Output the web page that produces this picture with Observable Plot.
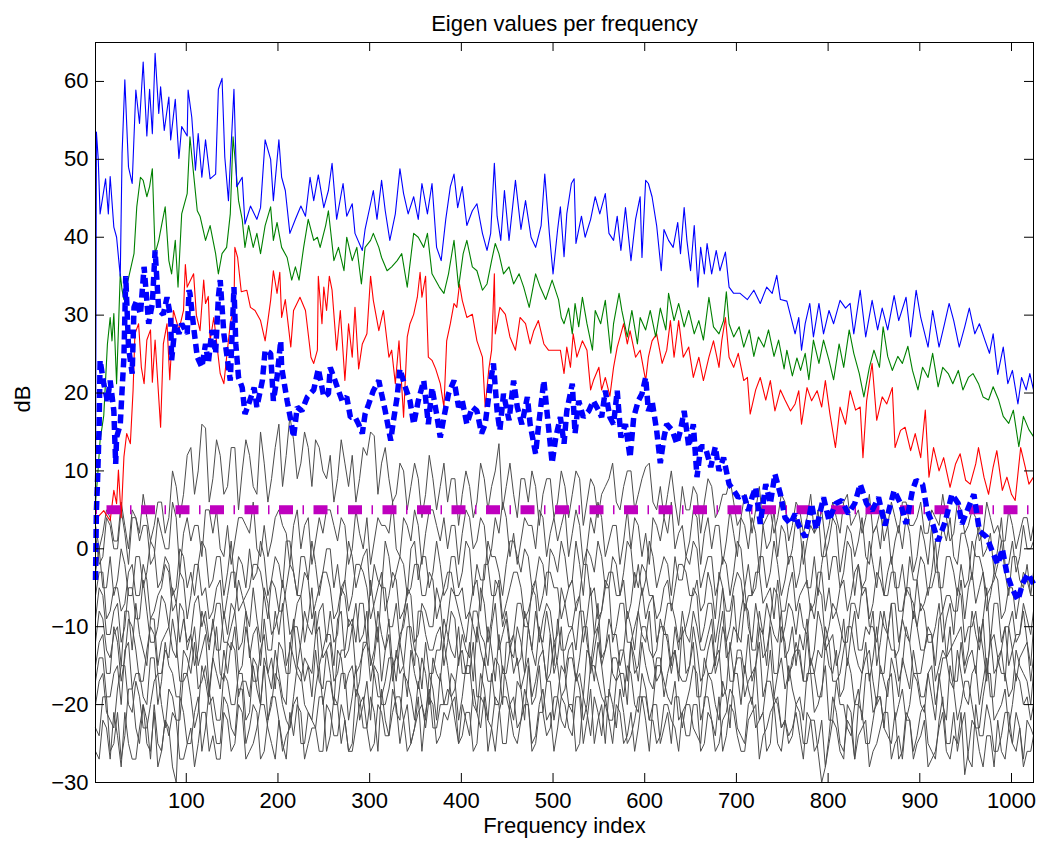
<!DOCTYPE html>
<html>
<head>
<meta charset="utf-8">
<script src="https://cdn.jsdelivr.net/npm/d3@7"></script>
<script src="https://cdn.jsdelivr.net/npm/@observablehq/plot@0.6"></script>
<style>
  html, body { margin: 0; padding: 0; background: #fff; }
</style>
</head>
<body>
<div id="chart"></div>
<script>
// ---------------- DATA ----------------
const chartTitle = "Eigen values per frequency";
const xLabel = "Frequency index";
const yLabel = "dB";
const xTicks = [100, 200, 300, 400, 500, 600, 700, 800, 900, 1000];
const yTicks = [-30, -20, -10, 0, 10, 20, 30, 40, 50, 60];
const threshold = 5;

// Largest eigenvalue (thin blue) [frequency index, dB]
const eig1 = [[1,6],[2,53.5],[4,50],[6,43],[12,47.5],[15,43],[17,47.8],[21,41.3],[24,40],[28,35],[30,50.8],[33,60.2],[37,49],[41,46.9],[45,58.9],[49,54.6],[53,62.5],[57,53],[60,59],[63,53.3],[66,63.6],[70,55.9],[72,59.3],[76,53.7],[81,58],[83,52.5],[88,57.7],[92,50.1],[95,54.2],[101,53],[102,58.9],[106,55.4],[110,48.6],[113,53.3],[117,47.7],[121,52.5],[126,47.5],[132,48.1],[135,59],[139,60.4],[142,50.3],[146,44.7],[152,59],[155,46.5],[161,47.7],[164,41.7],[170,44],[177,42.3],[181,43.8],[186,52.5],[192,50],[195,44.7],[201,52.5],[204,47.7],[208,46],[213,40.5],[219,42.3],[225,44],[230,42.7],[235,47.7],[239,44.7],[244,48],[250,43.8],[255,46],[259,49.5],[264,42.3],[271,46.9],[275,42.7],[281,44.3],[284,40.5],[292,38.3],[295,41],[301,44.3],[304,46],[308,42.3],[313,47.3],[317,43.4],[322,39.6],[328,43],[333,48.8],[337,45.6],[342,43],[348,45.2],[353,42.3],[357,46.9],[363,43],[368,46.9],[373,38.7],[378,37],[383,42.3],[388,46.5],[392,48.1],[396,43.8],[401,46.5],[406,41.5],[412,43.4],[417,44.3],[423,40.5],[428,38.3],[432,40.5],[436,49.5],[439,42.7],[443,39.6],[447,46],[452,39.6],[459,47.3],[465,41],[470,44.7],[476,40],[481,38.7],[487,41.5],[491,48.1],[496,40.5],[500,35.3],[505,41],[508,43.9],[512,37.5],[515,43],[520,46.9],[523,47.5],[525,39.2],[531,42.7],[535,40],[541,42.3],[546,45.2],[551,43],[557,45.6],[561,40.5],[566,39.6],[570,42.7],[574,38.3],[579,43.8],[585,37],[590,42.3],[595,45.2],[597,37.4],[601,47.3],[604,46.9],[608,45.2],[613,41.5],[618,35.7],[621,41],[626,39.6],[631,38.7],[636,41.9],[639,37.9],[643,43.8],[646,39.6],[650,35.7],[654,41.5],[658,33.6],[661,38.7],[665,35.3],[668,39.2],[673,35.3],[678,38.3],[682,35.7],[688,38.1],[692,33.6],[697,32.8],[704,32.8],[712,32],[719,33.2],[726,31.5],[733,33.6],[739,32.8],[744,35.1],[748,32],[755,31.8],[760,29.5],[764,27.6],[768,29.7],[771,25.5],[775,28.9],[780,31.5],[784,27.2],[790,31.5],[795,27.6],[801,30.6],[806,28.9],[813,31.9],[819,30.9],[824,31.5],[828,27.6],[835,33.2],[841,27.2],[848,31.9],[854,28.1],[859,30.9],[865,28.1],[872,32.5],[877,29.3],[885,32.3],[890,27.2],[896,33.2],[901,29.7],[909,25.9],[914,30.6],[921,25.9],[927,28.9],[932,31.5],[937,29.3],[943,25.9],[949,28.5],[954,30.9],[960,27.6],[965,28.9],[971,26.8],[976,25.1],[980,27.6],[985,22.4],[991,25.9],[996,21.2],[1001,22.9],[1007,18.6],[1011,22],[1016,20.4],[1020,22.5],[1024,20.4]];

// Second eigenvalue (green)
const eig2 = [[1,6],[3,8.8],[6,13.9],[10,17.1],[14,26.3],[17,29.7],[19,26.7],[21,30.2],[24,21.2],[26,28.2],[28,35.3],[30,33.2],[32,32],[35,33.7],[43,37.9],[46,43.9],[50,47.7],[53,47.3],[57,45.2],[60,46.5],[63,48.8],[66,37.9],[70,39.6],[73,41.5],[77,43.9],[81,37],[84,35.3],[88,39.6],[91,33.6],[95,43],[101,45.6],[104,52.9],[108,48.1],[112,43.4],[115,42.7],[121,39.6],[126,41.5],[132,37.9],[135,35.3],[139,37.9],[144,38.7],[148,43],[151,52.9],[154,49],[157,44.7],[161,42.3],[164,38.7],[168,41.5],[173,38.7],[177,40.5],[181,37.9],[186,41.5],[192,43.9],[195,39.6],[199,41.9],[204,38.7],[210,37.4],[215,34.5],[219,36.2],[223,34.5],[228,38.7],[233,42.3],[239,39.6],[243,40],[246,38.7],[252,41.5],[255,43.4],[261,37],[266,38.7],[272,35.7],[275,40],[281,37],[286,38.7],[291,34],[295,38.7],[301,39.6],[304,40.5],[310,38.7],[313,37.4],[319,35.7],[324,36.2],[330,37],[335,37.9],[341,33.6],[348,40.5],[353,40],[359,38.7],[363,40.5],[368,35.3],[376,33.6],[381,32.8],[386,35.3],[392,39.6],[397,33.6],[402,37.9],[406,39.6],[412,36.2],[417,35.7],[423,33.2],[428,34],[433,37],[437,39.2],[441,37.9],[446,35.3],[452,36.2],[457,34],[463,35.3],[468,33.6],[474,31],[481,35.3],[486,33.6],[492,32],[499,34.5],[506,32],[509,29.7],[512,28.9],[517,30.9],[521,27.6],[524,31.5],[528,28.5],[532,32.3],[537,28.9],[543,25.5],[546,30.6],[552,28.9],[557,31.9],[563,25.1],[566,28.9],[572,32.8],[575,30.6],[581,27.2],[586,30.6],[592,26.3],[595,29.7],[601,28.1],[606,30.6],[612,27.2],[617,30.9],[623,28.1],[626,32.8],[632,29.3],[637,31.5],[643,28.5],[648,30.6],[654,27.6],[659,29.3],[664,26.8],[670,32.3],[675,28.5],[681,27.6],[686,29.3],[689,33],[692,28.9],[697,27.2],[703,28.5],[708,25.9],[714,28.1],[719,24.7],[724,27.2],[730,25.9],[735,28.1],[741,24.7],[746,26.8],[752,23.1],[755,25.5],[761,22.2],[766,24.5],[770,22.9],[775,25.1],[779,21.7],[784,26.8],[790,23.8],[795,26.8],[801,24.2],[806,21.7],[812,26.3],[817,23.3],[823,28.1],[828,25.1],[834,22.5],[839,19.5],[845,23.3],[850,25.5],[856,23.3],[860,28.5],[865,24.7],[870,22.9],[876,24.7],[881,23.8],[887,26],[892,22.9],[898,20.4],[903,23.3],[909,22],[914,25.1],[920,20.8],[925,23.3],[931,22.5],[936,21.2],[942,22.9],[947,20.4],[953,22],[958,22.5],[964,21.2],[969,19.5],[975,19.1],[980,20.8],[986,19.1],[991,17],[997,16.1],[1002,17.8],[1008,13.1],[1013,17],[1019,15.3],[1024,14.4]];

// Third eigenvalue (red)
const eig3 = [[1,4],[3,4],[10,4.9],[17,3.6],[21,7.5],[24,5.8],[26,10.1],[29,4],[32,11.8],[35,14.8],[39,13.5],[42,20.4],[44,27.6],[48,28.9],[51,23.3],[54,21.2],[57,26.8],[61,28.1],[63,21.4],[66,26.8],[72,15.6],[75,26.3],[79,28.9],[82,21.7],[86,30.6],[92,28.1],[97,30.6],[99,36.5],[101,33.6],[108,35.3],[111,30],[115,28],[119,34.5],[121,31.5],[124,32.4],[126,26.7],[130,29.7],[137,22.5],[141,21.2],[144,24.6],[148,28.9],[152,31],[153,38.7],[156,37.4],[160,33],[166,33.2],[170,31],[175,30.6],[181,29.3],[186,26.7],[192,31.9],[195,35.7],[199,32.8],[202,35.5],[204,29.7],[208,32],[214,25.9],[217,30.6],[224,32.3],[230,30.6],[236,24.6],[239,23.8],[243,25.5],[244,35],[248,28.9],[250,33.6],[253,30.6],[256,35],[259,33.2],[264,25.5],[268,30.6],[273,21.6],[277,28.9],[281,24.6],[284,31],[288,23.1],[292,26.3],[297,27.6],[301,35],[304,31.9],[310,28],[315,30.6],[321,24.6],[324,25.5],[328,21.2],[332,26.7],[337,16.9],[341,27.2],[344,28.9],[348,30.1],[352,32.3],[355,35.5],[357,32.3],[361,35],[364,24.6],[368,24.2],[372,23.1],[377,21.2],[381,18.2],[384,26.7],[388,28.9],[392,31.5],[395,31],[398,34],[401,31.9],[406,29.7],[412,30.1],[417,26.7],[423,24.6],[426,18.2],[430,23.1],[433,25.5],[436,35.3],[437,27.6],[442,31],[448,30.1],[453,27.2],[459,25.5],[464,29.7],[470,28.9],[475,26.3],[479,28],[484,29.3],[490,26.3],[495,25.5],[503,25.5],[508,25.5],[512,22.5],[515,25.9],[519,23.3],[522,27.6],[526,24.6],[532,26.7],[537,25.5],[541,20.4],[544,21.6],[550,23.3],[553,20.4],[557,22],[562,19.6],[566,23.3],[570,25.9],[574,27.6],[577,28.9],[581,26.3],[584,28],[590,24.6],[595,25.5],[601,21.6],[604,24.6],[608,26.7],[613,27.6],[619,23.8],[624,25.5],[628,29.3],[632,24.6],[637,29.3],[642,24.6],[648,25.9],[653,22],[659,24.6],[664,21.6],[670,24.6],[675,26.7],[681,23.3],[684,26.7],[688,29.7],[692,24.6],[697,23.3],[702,25.1],[708,21.6],[712,22],[715,17.3],[721,20.4],[726,22],[732,19.1],[737,21.6],[742,17.7],[748,20.4],[753,19.1],[759,17.7],[764,18.6],[768,20.3],[771,16],[777,20.7],[782,19],[788,20.3],[793,18.2],[797,21.6],[802,17.3],[808,13],[813,18.2],[819,16],[824,20.3],[830,17.8],[835,18.2],[838,11.7],[842,19],[848,23.8],[853,16.5],[859,19.5],[864,18.6],[870,20.7],[873,13],[879,15.2],[884,15.6],[890,12.6],[895,14.8],[901,11.7],[906,17.8],[910,9.2],[915,13],[921,10],[926,11.7],[933,7.9],[939,10.9],[944,12.2],[950,8.8],[955,8.3],[961,10.9],[964,13],[970,9.2],[975,7],[980,10.5],[984,12.6],[990,7.5],[995,9.2],[1000,7],[1004,6.2],[1010,13],[1015,10.5],[1019,8.3],[1024,9.2]];

// Fourth eigenvalue (thick dashed blue)
const eig4 = [[1,-4],[2,5],[3,7.9],[4,11.8],[5,16.1],[6,24.2],[10,21.2],[14,19],[17,21.6],[21,17.7],[23,10.9],[24,14.3],[28,16],[30,20.4],[32,24.6],[34,35],[37,25.9],[41,22.5],[43,31],[46,31.9],[50,30.1],[54,36.2],[59,28.9],[63,31.5],[66,38.3],[70,30.6],[75,30.1],[79,32.3],[83,29.7],[84,24.2],[88,28.9],[92,27.6],[95,28.9],[101,27.6],[103,33.2],[104,32.8],[108,28.5],[112,24.6],[117,23.3],[121,26.3],[124,23.8],[128,28.1],[132,25.1],[135,32.3],[137,34.5],[141,27.6],[144,25.1],[148,21.6],[152,33.6],[154,26.3],[157,22],[161,20.7],[164,17.3],[168,18.6],[174,20.7],[177,18.2],[183,21.6],[186,25.5],[192,25.1],[195,19],[199,22],[203,26.7],[204,23.3],[210,19],[214,16.5],[217,14.3],[221,18.2],[226,17.7],[232,19.5],[239,20.4],[244,23.1],[250,19.5],[255,19.9],[257,23.3],[261,22],[266,20.3],[270,19],[275,19.5],[279,16.9],[284,16.9],[288,16],[292,14.8],[295,17.3],[299,18.6],[304,20.3],[310,21.6],[313,19.9],[317,17.7],[323,13.9],[326,16.5],[330,19.5],[333,23.1],[339,20.7],[344,19],[348,16],[353,19],[359,21.6],[364,16],[368,20.7],[373,17.3],[377,14.3],[381,16.9],[386,19.9],[392,21.6],[397,18.2],[401,19],[406,16],[412,18.2],[417,17.7],[422,14.8],[426,16],[432,21.6],[435,23.8],[439,17.7],[442,15.2],[446,19.9],[452,16.5],[457,21.6],[461,18.2],[466,16],[472,19.5],[475,16],[481,12.2],[484,15.6],[490,21.6],[494,16.9],[499,11],[503,14.3],[508,16.9],[512,13.5],[515,17.7],[521,21.2],[524,14.8],[528,19],[533,16.9],[539,17.7],[544,19],[550,17.7],[553,16.9],[557,20.3],[562,16.9],[566,16],[570,20.3],[574,14.3],[579,16],[584,11.7],[588,16.9],[593,19],[597,19.9],[601,22],[604,17.7],[608,19],[613,15.2],[617,11],[621,14.3],[624,16],[630,15.2],[635,13.5],[639,15.2],[643,17.7],[648,13.1],[653,16],[657,9.2],[661,13.1],[666,13.1],[672,10.5],[677,13.1],[681,10],[686,11.7],[692,8.3],[697,7.5],[702,6.6],[708,7],[713,4.9],[717,6.6],[721,7.9],[726,3.2],[732,8.3],[737,5.8],[742,9.6],[748,7],[753,4],[759,3.2],[764,4.5],[768,3],[775,1.5],[782,5.8],[787,2.5],[795,6.6],[801,3.6],[808,5.8],[815,6.2],[822,4.5],[829,5.8],[835,8.3],[842,5.8],[848,4.9],[855,6.6],[862,3],[872,7.5],[879,5.8],[885,3.2],[892,7.5],[896,8.8],[903,8.3],[908,4.9],[914,3.2],[920,1],[928,3.6],[935,7],[942,5.8],[946,3.2],[953,5.3],[959,7],[965,2.3],[973,1.5],[979,-0.3],[985,-2],[990,0],[995,-3.2],[1000,-4.9],[1007,-6.6],[1012,-4.5],[1018,-3.2],[1024,-4.5]];

// Remaining (noise) eigenvalues in grey.
// "A" values are at frequency indices 1, 9, 17, ..., 1017, 1024; "B" values at 5, 13, ..., 1021.
const noiseFreqA = d3.range(1, 1024, 8).concat([1024]);
const noiseFreqB = d3.range(5, 1024, 8);
const noise5A = [3,2,4,1,3,5,2,4,3,6,4,8,7,13,10,15.5, 9,12,8,13,10,12,7,11,9,16,12,14,11,13,14,10, 12,9,11,12,9,12,14.5,11,9,7,10,8,9,7,9,8, 6,9,7,8,6,9,8,13.5,8,7,9,6,8,7,9,6, 8,7,9,6,8,7,9,6,8,10,7,10.5,6,8,7,6, 8,5,7,6,8,5,7,6,4,6,5,3,5,4,6,3, 5,4,2,5,3,4,6,3,5,4,2,5,3,4,6,3, 4,2,5,3,4,2,5,3,4,2,4,3,1,3,2,4, 3];
const noise5B = [0,5,1,6,0,4,7,1,6,2,10,4,12,7,16,6, 14,7,13,5,14,8,15,6,13,8,17,9,15,8,13,9, 6,14,8,6,13,15,7,13,6,11,5,11,4,12,5,11, 9,3,10,4,11,5,10,5,11,4,9,10,3,9,4,10, 4,10,3,9,4,8,11,5,10,5,9,11,5,4,10,3, 5,8,2,9,4,7,9,3,7,2,8,4,2,7,1,6, 2,7,3,1,6,2,7,4,2,7,3,1,6,2,6,3, 6,2,4,7,1,6,2,5,1,6,2,1,5,0,4,1];
const noise6A = [2,-1,3,0,2,4,1,3,-1,2,0,4,2,1,3,5, 2,0,3,1,4,2,0,3,1,5,2,3,0,4,1,2, 5,1,3,0,2,4,1,3,2,0,4,1,3,2,5,1, 0,3,2,4,1,3,0,2,4,2,1,3,0,4,2,1, 5,2,3,0,2,4,1,3,1,0,3,2,4,1,2,0, 3,1,4,2,0,3,1,2,4,0,2,3,1,-1,2,0, 3,1,2,-1,1,3,0,2,1,-1,2,0,3,1,0,2, -1,1,3,0,1,-1,2,0,1,-1,2,0,-2,1,-1,0, 1];
const noise6B = [-2,4,0,5,-2,4,3,-2,4,0,6,-3,4,3,-1,5, 5,-1,-2,4,3,6,-1,-1,4,3,-2,5,3,-2,4,5, 3,4,-2,5,0,-2,4,3,6,-1,3,5,-2,5,3,4, 3,-2,5,0,4,-2,4,6,-1,-2,4,3,5,-1,4,3, -1,5,-2,4,6,-1,3,-2,5,4,-1,-2,3,4,6,2, -1,5,-2,4,3,-2,5,-1,3,4,-3,0,5,3,-2,4, -2,3,5,-1,4,-3,3,-1,4,-2,3,5,-2,3,4,-3, 3,-2,-3,3,4,-2,2,-4,3,0,-3,4,-2,-3,3,0];
const noise7A = [-3,-5,-1,-4,-2,-6,-1,-3,0,-4,-2,-5,-1,-3,-2,0, -4,-1,-3,-5,-2,0,-3,-1,-4,-2,1,-3,-1,-4,-2,-3, 0,-2,-4,-1,-3,0,-2,-5,-1,-3,-2,0,-4,-1,-3,-2, -5,-1,-3,0,-2,-4,-1,-3,-2,1,-3,-1,-4,-2,0,-3, -1,-4,-2,0,-3,-1,-5,-2,-3,0,-2,-4,-1,-3,-2,-1, -4,-2,0,-3,-1,-4,-2,-3,0,-2,-5,-1,-3,-2,-4,-1, -3,-5,-1,-2,-4,-1,-3,0,-2,-4,-2,-1,-3,-5,-2,-1, -4,-2,-3,-5,-1,-3,-2,-4,-1,-3,-5,-2,-3,-1,-4,-2, -3];
const noise7B = [0,-5,-6,0,-6,-1,-5,1,-5,-1,-6,0,-5,-6,1,-5, -1,-6,1,-1,-5,-4,1,-6,-1,-5,1,-6,-1,1,-6,0, -5,-6,1,-5,-1,-6,-4,1,-5,-1,-6,1,-1,-5,1,-6, -1,-5,1,-6,-4,1,-1,-6,1,-1,0,-5,-1,-6,-1,1, -5,1,-6,-1,1,-5,-1,-6,1,-5,-6,1,-5,-1,-6,-4, -1,1,-5,-1,-6,-1,-6,1,-5,-6,-1,-5,1,-6,-1,-5, 1,-5,-6,1,-1,-5,1,-6,-5,1,-5,-6,-1,-5,-6,-4, -1,-6,1,-5,-1,-6,-5,1,-1,-6,-4,1,-6,-1,-5,-6];
const noise8A = [-6,-3,-8,-5,-7,-2,-6,-4,-8,-5,-3,-7,-4,-6,-2,-5, -8,-4,-6,-3,-7,-5,-2,-6,-4,-8,-5,-3,-6,-4,-7,-3, -5,-8,-4,-6,-2,-5,-7,-3,-6,-4,-8,-5,-2,-6,-4,-7, -3,-6,-5,-8,-4,-2,-6,-4,-7,-3,-5,-8,-4,-6,-3,-5, -7,-4,-6,-2,-5,-8,-3,-6,-4,-7,-5,-3,-6,-8,-4,-5, -2,-6,-4,-7,-5,-3,-8,-5,-4,-6,-3,-7,-5,-4,-8,-3, -6,-4,-7,-3,-5,-8,-4,-6,-2,-5,-7,-4,-6,-3,-8,-5, -4,-7,-5,-3,-6,-8,-4,-5,-7,-3,-6,-4,-8,-5,-6,-4, -6];
const noise8B = [-3,-9,-5,-8,-3,-6,-2,-9,-6,-2,-8,-3,-9,-2,-6,-9, -5,-9,-3,-8,-6,-2,-3,-9,-5,-8,-2,-6,-3,-9,-5,-3, -9,-5,-8,-2,-3,-9,-5,-8,-3,-9,-6,-2,-6,-3,-9,-5, -3,-6,-9,-5,-8,-2,-6,-9,-5,-3,-9,-6,-8,-3,-5,-9, -5,-8,-2,-6,-9,-5,-3,-6,-9,-3,-2,-6,-9,-5,-8,-2, -3,-6,-8,-3,-9,-5,-8,-3,-8,-6,-3,-6,-9,-8,-5,-8, -5,-8,-3,-8,-9,-5,-8,-3,-6,-9,-3,-6,-3,-8,-5,-9, -8,-5,-3,-8,-6,-8,-9,-3,-5,-8,-3,-9,-5,-9,-3,-6];
const noise9A = [-9,-6,-11,-7,-10,-5,-9,-8,-12,-6,-10,-7,-9,-11,-6,-8, -10,-7,-12,-8,-6,-10,-9,-5,-11,-8,-7,-10,-6,-9,-11,-7, -8,-11,-6,-9,-7,-12,-8,-5,-10,-7,-9,-6,-11,-8,-10,-7, -9,-6,-10,-8,-12,-7,-9,-5,-8,-11,-7,-10,-6,-9,-8,-11, -7,-10,-6,-9,-11,-8,-5,-10,-7,-12,-8,-9,-6,-10,-7,-9, -11,-8,-6,-10,-7,-9,-12,-6,-8,-10,-7,-11,-9,-6,-10,-8, -7,-11,-9,-6,-10,-8,-12,-7,-9,-5,-10,-8,-11,-7,-9,-6, -10,-8,-12,-7,-9,-11,-6,-10,-8,-9,-12,-7,-10,-8,-11,-9, -8];
const noise9B = [-5,-11,-8,-12,-5,-9,-4,-12,-10,-7,-5,-12,-12,-7,-10,-12, -7,-12,-10,-4,-8,-5,-12,-7,-10,-4,-11,-7,-12,-5,-8,-12, -12,-5,-10,-12,-7,-4,-12,-5,-10,-12,-5,-12,-7,-10,-5,-12, -5,-8,-12,-10,-5,-12,-4,-10,-12,-7,-10,-5,-12,-7,-12,-5, -10,-7,-12,-5,-10,-4,-12,-7,-12,-10,-5,-7,-12,-10,-7,-12, -10,-5,-12,-7,-12,-5,-10,-12,-5,-12,-10,-7,-5,-12,-7,-11, -10,-7,-5,-12,-7,-10,-12,-7,-5,-10,-12,-10,-7,-12,-5,-7, -7,-12,-10,-12,-7,-5,-12,-10,-12,-5,-7,-12,-10,-12,-7,-11];
const noise10A = [-12,-9,-14,-10,-8,-13,-11,-15,-9,-12,-10,-14,-8,-11,-13,-10, -9,-13,-11,-8,-12,-14,-10,-9,-13,-11,-15,-9,-12,-10,-8,-13, -11,-9,-14,-10,-12,-8,-13,-11,-9,-14,-10,-12,-8,-11,-13,-10, -12,-9,-11,-14,-8,-12,-10,-13,-9,-11,-14,-10,-8,-12,-11,-9, -13,-10,-8,-12,-11,-14,-9,-11,-13,-10,-8,-12,-14,-9,-11,-10, -8,-12,-10,-13,-9,-11,-14,-10,-12,-8,-13,-11,-9,-12,-14,-10, -11,-9,-13,-10,-12,-15,-9,-11,-13,-10,-8,-12,-11,-14,-9,-12, -10,-13,-11,-9,-14,-12,-10,-13,-11,-9,-12,-14,-10,-13,-11,-12, -10];
const noise10B = [-8,-13,-11,-15,-8,-7,-13,-9,-15,-11,-13,-7,-13,-15,-8,-13, -13,-8,-7,-13,-8,-11,-15,-13,-8,-7,-13,-15,-8,-11,-15,-11, -15,-8,-13,-7,-11,-15,-8,-13,-15,-11,-7,-15,-8,-13,-11,-15, -8,-15,-13,-8,-11,-15,-7,-11,-13,-15,-8,-13,-11,-8,-15,-13, -11,-13,-8,-15,-7,-13,-11,-15,-8,-13,-11,-8,-13,-11,-15,-13, -11,-8,-13,-11,-15,-8,-13,-11,-7,-13,-8,-15,-11,-8,-13,-15, -13,-15,-8,-13,-11,-13,-15,-8,-13,-11,-15,-8,-7,-13,-11,-8, -13,-11,-15,-8,-13,-11,-15,-8,-13,-16,-11,-13,-15,-11,-8,-15];
const noise11A = [-15,-11,-16,-12,-14,-10,-17,-13,-11,-16,-14,-12,-17,-13,-15,-11, -14,-16,-12,-10,-15,-13,-17,-11,-14,-12,-16,-10,-13,-15,-11,-14, -12,-16,-13,-10,-15,-12,-14,-17,-11,-13,-15,-10,-14,-12,-16,-13, -11,-14,-16,-12,-10,-15,-13,-11,-16,-14,-12,-10,-15,-13,-11,-14, -16,-12,-14,-10,-13,-15,-11,-17,-13,-12,-15,-10,-14,-16,-12,-13, -10,-15,-13,-16,-11,-14,-12,-17,-13,-11,-15,-14,-10,-16,-12,-14, -13,-11,-16,-14,-12,-17,-13,-10,-15,-12,-14,-16,-11,-13,-15,-12, -16,-13,-11,-15,-14,-17,-12,-14,-16,-13,-11,-15,-17,-13,-14,-12, -14];
const noise11B = [-12,-16,-10,-17,-9,-13,-17,-10,-16,-13,-9,-17,-16,-10,-13,-18, -10,-17,-13,-16,-10,-17,-13,-16,-18,-13,-16,-10,-17,-16,-10,-13, -17,-13,-9,-16,-13,-17,-10,-13,-17,-16,-10,-13,-18,-16,-13,-9, -13,-10,-16,-17,-13,-10,-17,-16,-13,-10,-16,-13,-10,-17,-16,-10, -13,-17,-10,-16,-10,-13,-16,-13,-17,-16,-10,-13,-17,-10,-16,-17, -16,-10,-17,-13,-16,-10,-17,-13,-16,-17,-10,-13,-16,-10,-17,-13, -17,-16,-13,-10,-17,-16,-10,-13,-16,-17,-10,-16,-13,-17,-10,-16, -16,-10,-17,-13,-10,-17,-16,-13,-10,-17,-16,-13,-10,-17,-13,-17];
const noise12A = [-17,-14,-19,-15,-13,-18,-16,-20,-14,-17,-15,-19,-13,-16,-18,-15, -14,-18,-16,-13,-17,-19,-15,-14,-18,-16,-20,-14,-17,-15,-13,-18, -16,-13,-18,-15,-17,-12,-16,-19,-14,-17,-15,-13,-18,-16,-14,-17, -15,-18,-13,-16,-19,-14,-17,-15,-12,-16,-18,-14,-17,-13,-16,-15, -18,-14,-16,-13,-17,-15,-19,-14,-16,-12,-17,-15,-18,-14,-16,-13, -17,-15,-19,-14,-16,-13,-18,-16,-14,-17,-15,-19,-13,-16,-18,-15, -14,-17,-16,-19,-15,-13,-18,-16,-20,-14,-17,-15,-19,-16,-14,-18, -16,-19,-15,-17,-14,-18,-16,-20,-15,-17,-19,-14,-16,-18,-15,-17, -16];
const noise12B = [-14,-19,-16,-20,-12,-16,-19,-14,-20,-12,-16,-19,-14,-12,-17,-19, -16,-13,-12,-19,-17,-14,-20,-16,-13,-19,-12,-16,-14,-19,-17,-13, -20,-14,-16,-19,-12,-14,-19,-17,-14,-12,-19,-16,-14,-20,-16,-12, -19,-14,-16,-12,-19,-17,-14,-20,-12,-14,-16,-19,-14,-17,-12,-19, -14,-17,-19,-14,-12,-19,-14,-16,-20,-14,-12,-17,-14,-19,-14,-16, -17,-12,-19,-16,-14,-19,-12,-14,-19,-16,-12,-17,-19,-14,-16,-12, -17,-14,-19,-12,-16,-19,-14,-20,-16,-13,-20,-17,-14,-19,-16,-13, -19,-16,-20,-14,-17,-13,-19,-16,-20,-14,-19,-16,-19,-13,-16,-20];
const noise13A = [-20,-16,-22,-18,-15,-21,-19,-23,-17,-20,-18,-22,-16,-19,-21,-17, -19,-22,-17,-20,-16,-21,-18,-15,-20,-17,-22,-19,-16,-21,-18,-20, -17,-20,-16,-19,-22,-17,-15,-20,-18,-21,-16,-19,-17,-22,-18,-16, -20,-17,-19,-15,-21,-18,-16,-20,-17,-22,-18,-15,-19,-21,-17,-19, -16,-21,-18,-20,-15,-19,-22,-17,-19,-16,-21,-18,-20,-15,-19,-17, -21,-18,-16,-20,-17,-22,-19,-16,-20,-18,-15,-21,-17,-19,-22,-18, -19,-16,-21,-18,-22,-17,-20,-24,-18,-16,-21,-19,-17,-22,-18,-20, -17,-21,-19,-16,-22,-18,-20,-17,-23,-19,-16,-21,-18,-20,-17,-19, -20];
const noise13B = [-17,-21,-23,-15,-20,-17,-23,-20,-16,-23,-19,-22,-16,-23,-15,-20, -22,-16,-20,-16,-22,-15,-20,-22,-16,-20,-23,-15,-20,-22,-15,-17, -20,-16,-22,-15,-20,-22,-16,-20,-15,-22,-17,-22,-20,-16,-22,-20, -16,-22,-15,-20,-16,-22,-20,-15,-20,-17,-22,-20,-15,-17,-22,-15, -20,-16,-22,-15,-17,-20,-22,-16,-15,-20,-16,-22,-15,-17,-20,-22, -20,-15,-22,-16,-20,-17,-23,-16,-15,-20,-22,-17,-20,-23,-15,-20, -22,-16,-20,-15,-22,-20,-23,-20,-22,-16,-20,-23,-16,-20,-22,-16, -20,-16,-22,-20,-15,-22,-17,-20,-23,-16,-22,-20,-23,-16,-20,-22];
const noise14A = [-23,-19,-26,-21,-24,-18,-25,-22,-20,-26,-23,-30,-21,-25,-19,-23, -22,-25,-20,-24,-18,-23,-21,-26,-19,-22,-24,-20,-25,-21,-23,-19, -24,-20,-22,-25,-19,-23,-21,-18,-24,-20,-22,-25,-19,-21,-23,-20, -18,-22,-20,-24,-21,-19,-23,-20,-25,-19,-22,-20,-24,-18,-21,-23, -20,-24,-19,-22,-25,-20,-18,-23,-21,-24,-19,-22,-20,-25,-21,-19, -23,-20,-24,-19,-22,-25,-21,-19,-24,-20,-23,-21,-25,-20,-22,-24, -21,-25,-22,-30,-24,-21,-26,-23,-20,-25,-22,-19,-24,-21,-26,-22, -24,-20,-26,-22,-25,-21,-23,-27,-20,-24,-22,-26,-21,-25,-23,-22, -24];
const noise14B = [-24,-19,-25,-27,-18,-23,-20,-27,-25,-22,-28,-19,-25,-21,-26,-18, -25,-19,-23,-18,-25,-20,-27,-22,-19,-26,-23,-19,-25,-22,-19,-26, -19,-25,-26,-18,-23,-19,-26,-22,-18,-25,-20,-23,-26,-18,-23,-20, -19,-25,-22,-18,-23,-26,-19,-25,-20,-23,-18,-25,-20,-22,-26,-19, -23,-19,-25,-18,-22,-25,-20,-18,-25,-22,-19,-26,-20,-23,-25,-19, -20,-23,-25,-19,-26,-22,-18,-23,-25,-19,-22,-26,-19,-23,-25,-20, -25,-22,-26,-28,-19,-25,-22,-27,-21,-25,-19,-23,-25,-27,-21,-26, -21,-25,-27,-19,-25,-26,-21,-28,-24,-20,-26,-24,-21,-26,-27,-23];
const noise15A = [-26,-22,-27,-24,-21,-27,-23,-25,-21,-26,-24,-22,-27,-23,-25,-21, -24,-27,-22,-25,-21,-26,-23,-20,-25,-22,-27,-24,-21,-25,-23,-26, -21,-24,-22,-26,-20,-23,-25,-21,-24,-19,-22,-25,-21,-23,-20,-24, -22,-19,-24,-21,-25,-20,-23,-21,-19,-24,-22,-20,-25,-21,-23,-19, -23,-20,-25,-21,-19,-24,-22,-20,-25,-21,-23,-19,-22,-24,-20,-23, -21,-24,-20,-25,-22,-19,-24,-21,-26,-22,-20,-24,-21,-25,-22,-23, -24,-21,-26,-22,-25,-23,-27,-21,-24,-22,-26,-23,-21,-25,-27,-22, -25,-22,-27,-23,-26,-24,-21,-26,-23,-28,-24,-22,-27,-25,-23,-26, -24];
const noise15B = [-27,-23,-21,-28,-25,-27,-20,-26,-28,-22,-21,-27,-25,-28,-21,-26, -27,-21,-26,-20,-27,-25,-20,-23,-27,-25,-21,-20,-27,-23,-26,-20, -24,-20,-26,-23,-19,-26,-20,-24,-21,-19,-26,-23,-20,-19,-25,-21, -20,-25,-21,-26,-19,-22,-26,-19,-21,-25,-20,-26,-21,-24,-19,-22, -20,-26,-19,-24,-21,-19,-25,-21,-24,-26,-19,-22,-25,-20,-22,-26, -24,-20,-26,-21,-24,-26,-20,-24,-26,-21,-27,-23,-20,-26,-24,-21, -27,-22,-25,-28,-22,-26,-20,-27,-23,-28,-25,-21,-27,-24,-22,-27, -24,-28,-26,-21,-27,-25,-29,-22,-26,-24,-28,-26,-23,-21,-28,-26];
const noiseSeries = [
  [noise5A, noise5B], [noise6A, noise6B], [noise7A, noise7B], [noise8A, noise8B],
  [noise9A, noise9B], [noise10A, noise10B], [noise11A, noise11B], [noise12A, noise12B],
  [noise13A, noise13B], [noise14A, noise14B], [noise15A, noise15B]
];

// ---------------- BUILD ----------------
const toRows = arr => arr.map(([f, v]) => ({f, v}));
const greyRows = noiseSeries.flatMap(([a, b], k) => {
  const rows = [];
  a.forEach((v, i) => { if (noiseFreqA[i] !== undefined) rows.push({f: noiseFreqA[i], v, k}); });
  b.forEach((v, i) => { if (noiseFreqB[i] !== undefined) rows.push({f: noiseFreqB[i], v, k}); });
  return rows.sort((p, q) => p.f - q.f);
});

const chart = Plot.plot({
  width: 1044,
  height: 852,
  marginLeft: 95,
  marginRight: 11,
  marginTop: 42,
  marginBottom: 70,
  style: {fontFamily: '"Liberation Sans", Arial, Helvetica, sans-serif', fontSize: "22px", background: "white", color: "black"},
  x: {domain: [1, 1024]},
  y: {domain: [-30, 65]},
  marks: [
    Plot.line(greyRows, {x: "f", y: "v", z: "k", stroke: "#4d4d4d", strokeWidth: 1}),
    Plot.line(toRows(eig3), {x: "f", y: "v", stroke: "#ff0000", strokeWidth: 1.1}),
    Plot.line(toRows(eig2), {x: "f", y: "v", stroke: "#008000", strokeWidth: 1.1}),
    Plot.line(toRows(eig1), {x: "f", y: "v", stroke: "#0000ff", strokeWidth: 1.1}),
    Plot.ruleY([threshold], {stroke: "#bf00bf", strokeWidth: 9, strokeDasharray: "14,9.5,1.5,9.5", strokeDashoffset: 23}),
    Plot.line(toRows(eig4), {x: "f", y: "v", stroke: "#0000ff", strokeWidth: 5.5, strokeDasharray: "9,5", strokeLinecap: "butt", strokeLinejoin: "miter"}),
    Plot.frame({stroke: "black", strokeWidth: 1}),
    Plot.tickX(xTicks, {x: d => d, insetTop: 731, stroke: "black"}),
    Plot.tickX(xTicks, {x: d => d, insetBottom: 731, stroke: "black"}),
    Plot.tickY(yTicks, {y: d => d, insetRight: 929, stroke: "black"}),
    Plot.tickY(yTicks, {y: d => d, insetLeft: 929, stroke: "black"}),
    Plot.axisX({ticks: xTicks, tickSize: 0, tickPadding: 10, label: null, tickFormat: d => String(d)}),
    Plot.axisY({ticks: yTicks, tickSize: 0, tickPadding: 7, label: null}),
    Plot.text([chartTitle], {text: d => d, frameAnchor: "top", dy: -27, fontSize: 22}),
    Plot.text([xLabel], {text: d => d, frameAnchor: "bottom", dy: 50, fontSize: 22}),
    Plot.text([yLabel], {text: d => d, frameAnchor: "left", dx: -73, rotate: -90, fontSize: 22})
  ]
});
document.getElementById("chart").appendChild(chart);
</script>
</body>
</html>
